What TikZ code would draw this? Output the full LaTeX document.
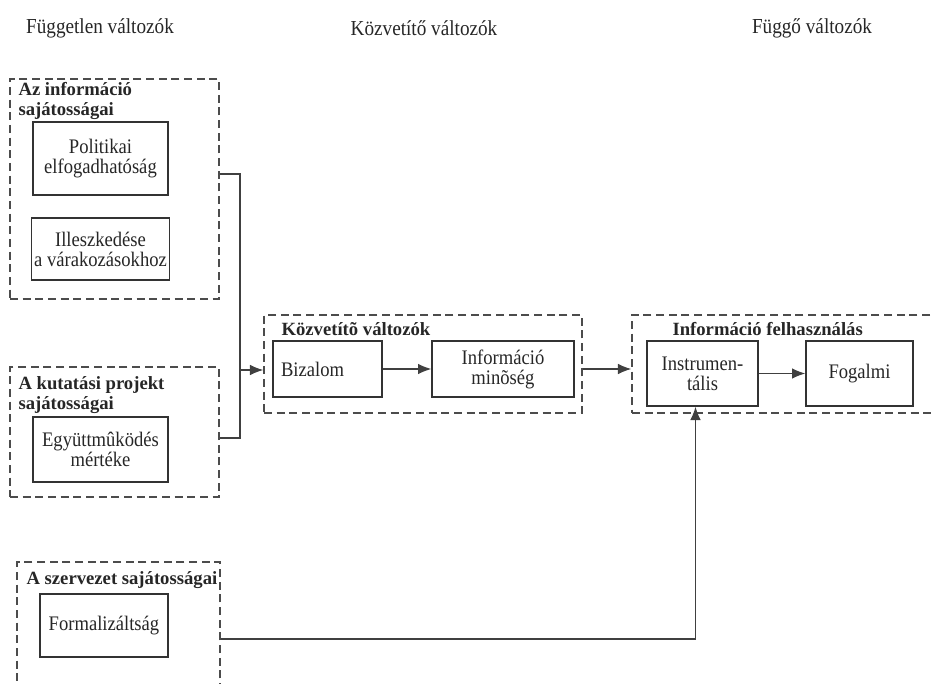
\documentclass[tikz,border=0pt]{standalone}
\usepackage{fontspec}
\setmainfont{Liberation Serif}
\newfontfamily\narrowserif{Liberation Serif}[FakeStretch=0.9]
\usetikzlibrary{arrows.meta,calc}

\begin{document}
\begin{tikzpicture}[x=0.75pt,y=-0.75pt,>={Latex[length=10pt,width=8pt]},
    every node/.style={font=\narrowserif\fontsize{15.5}{15}\selectfont, text=black!85},
    header/.style={font=\narrowserif\fontsize{16}{16}\selectfont},
    group/.style={draw=black!70, line width=1.1pt, dash pattern=on 6pt off 3.5pt, inner sep=0pt},
    grouptitle/.style={font=\bfseries\fontsize{14}{15}\selectfont, align=left, anchor=north west, inner sep=0pt},
    varbox/.style={draw=black!80, line width=1pt, align=center, inner sep=2pt},
    conn/.style={draw=black!75, line width=1pt}]
  \def\px{0.75pt}   % one pixel of the reference

  \path[use as bounding box, clip] (0,0) rectangle (931,684);

  % column headers
  \node[header] (hdrIndep) at (100,28) {Független változók};
  \node[header] (hdrMed)   at (424,28) {Közvetítő változók};
  \node[header] (hdrDep)   at (812,28) {Függő változók};

  % dashed groups
  \node[group, minimum width=209*\px, minimum height=220*\px] (grpInfo) at (114.5,189) {};
  \node[group, minimum width=209*\px, minimum height=130*\px] (grpProj) at (114.5,432) {};
  \node[group, minimum width=203*\px, minimum height=154*\px] (grpOrg)  at (118.5,639) {};
  \node[group, minimum width=318*\px, minimum height=98*\px]  (grpMed)  at (423,364) {};
  \node[group, minimum width=328*\px, minimum height=98*\px]  (grpUse)  at (796,364) {};

  \node[grouptitle] (ttlInfo) at ($(grpInfo.north west)+(9,4)$) {Az információ\\sajátosságai};
  \node[grouptitle] (ttlProj) at ($(grpProj.north west)+(9,10)$) {A kutatási projekt\\sajátosságai};
  \node[grouptitle] (ttlOrg)  at ($(grpOrg.north west)+(10,10)$) {A szervezet sajátosságai};
  \node[grouptitle] (ttlMed)  at ($(grpMed.north west)+(18,8)$) {Közvetítõ változók};
  \node[grouptitle] (ttlUse)  at ($(grpUse.north west)+(41,8)$) {Információ felhasználás};

  % variables
  \node[varbox, minimum width=135*\px, minimum height=73*\px] (polit) at (100.5,158.5) {Politikai\\elfogadhatóság};
  \node[varbox, minimum width=135*\px, minimum height=62*\px] (expect) at (100.5,249) {Illeszkedése\\a várakozásokhoz};
  \node[varbox, minimum width=135*\px, minimum height=65*\px] (coop) at (100.5,449.5) {Együttmûködés\\mértéke};
  \node[varbox, minimum width=128*\px, minimum height=63*\px] (formal) at (104,625.5) {Formalizáltság};
  \node[varbox, align=left, text width=93*\px, inner xsep=8*\px, minimum height=56*\px] (trust) at (327.5,369) {Bizalom};
  \node[varbox, minimum width=142*\px, minimum height=56*\px] (quality) at (503,369) {Információ\\minõség};
  \node[varbox, minimum width=111*\px, minimum height=65*\px] (instr) at (702.5,373.5) {Instrumen-\\tális};
  \node[varbox, minimum width=107*\px, minimum height=65*\px] (concept) at (859.5,373.5) {Fogalmi};

  % connectors
  \coordinate (join) at (240,370);
  \draw[conn] ($(grpInfo.east)+(0,-15)$) -| (join) |- ($(grpProj.east)+(0,6)$);
  \draw[conn,->] (join) -- (grpMed.west |- join);
  \draw[conn,->] (trust) -- (quality);
  \draw[conn,->] (grpMed.east |- quality.east) -- (grpUse.west |- quality.east);
  \draw[conn,->] (instr) -- (concept);
  \draw[conn,->] (grpOrg.east) -| ($(instr.south)+(-7,0)$);

\end{tikzpicture}
\end{document}
